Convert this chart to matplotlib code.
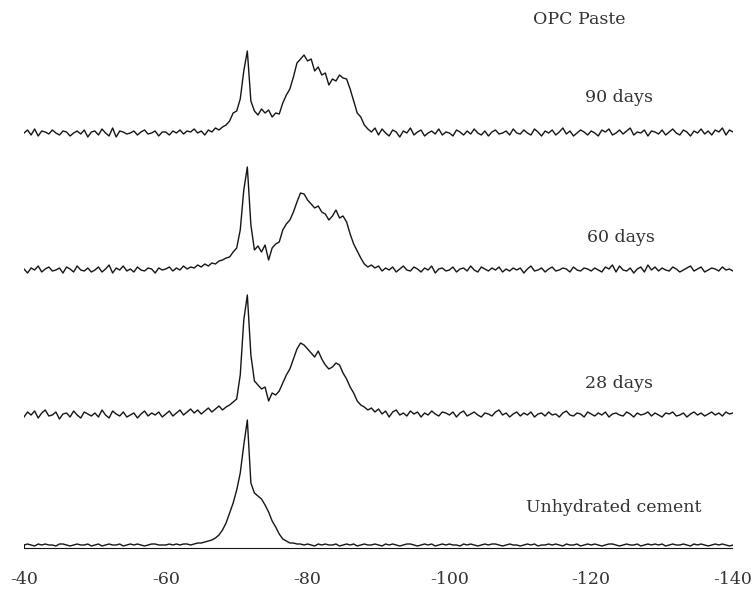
import numpy as np
import matplotlib
matplotlib.use("Agg")
import matplotlib.pyplot as plt

# chemical shift grid (ppm), 0.5 ppm steps from -40 to -140
ppm = np.linspace(-40, -140, 201)

# intensities, rows of 10 ppm each (-40..-49.5, -50..-59.5, ...), last value at -140
days90 = [0, 3, -2, 4, -3, 2, 1, -1, 3, 0, -2, 2, 1, -3, 0, 2, -1, 3, -4, 1,
          2, -2, 4, 0, -3, 5, -4, 2, 1, -1, 0, 2, -2, 1, 3, -1, 0, 2, -3, 1,
          1, -2, 2, 0, 3, -1, 2, 1, 4, 0, 2, -2, 3, 1, 5, 3, 6, 8, 12, 20,
          22, 34, 62, 82, 32, 22, 18, 24, 20, 23, 16, 20, 19, 30, 38, 44, 56, 70, 74, 78,
          72, 74, 62, 66, 58, 60, 48, 54, 52, 58, 55, 54, 44, 32, 20, 16, 8, 4, 1, 5,
          -2, 4, 0, -3, 3, 1, -4, 2, 0, 5, -2, 1, 3, -3, 0, 2, -1, 4, -2, 1,
          0, -3, 3, 1, -2, 2, -1, 4, 0, -2, 2, -3, 1, 3, -1, 0, 2, -2, 4, 0,
          -1, 3, 0, -2, 4, 1, -3, 2, 0, 3, -2, 1, 5, -1, 2, -3, 0, 3, 1, -2,
          2, 0, -3, 3, 1, 4, -2, 0, 3, -1, 2, 5, -2, 1, 0, 3, -3, 2, 1, -1,
          3, -2, 1, 4, 0, -2, 3, 1, -3, 2, 0, 4, -1, 2, -2, 3, 1, 5, -2, 3,
          1]

days60 = [1, -3, 2, 0, 4, -2, 1, 3, -1, 0, 2, -3, 3, 1, -2, 4, 0, -1, 2, -2,
          0, 3, -2, 1, 5, -3, 2, 0, 4, -1, 1, -2, 3, 0, -1, 2, 1, -3, 2, 0,
          1, 3, -1, 2, 0, 4, 1, 3, 2, 5, 3, 6, 4, 7, 6, 9, 10, 12, 13, 18,
          22, 40, 80, 103, 45, 20, 24, 18, 25, 10, 22, 26, 28, 40, 46, 50, 58, 68, 77, 76,
          70, 66, 62, 64, 58, 56, 50, 54, 60, 52, 54, 48, 36, 26, 19, 12, 6, 3, 5, 2,
          4, -1, 2, 0, 3, -2, 1, 4, 0, -1, 3, 1, -2, 2, 0, 4, -3, 1, 2, -1,
          0, 3, -2, 1, 2, -1, 4, 0, -2, 3, 1, -1, 2, 0, 3, -2, 1, -1, 2, 0,
          2, -3, 1, 4, -1, 0, 2, -2, 1, 3, -1, 0, 2, 1, -2, 3, 0, -1, 2, 1,
          -1, 2, 0, -2, 3, 1, 5, -2, 4, 0, -1, 2, -3, 1, 3, -2, 5, 0, 3, -1,
          2, 0, -1, 3, 1, -2, 0, 2, 4, -1, 1, 3, -2, 0, 2, 1, -1, 3, 0, 1,
          -1]

days28 = [-2, 3, 0, 4, -3, 2, 5, -1, 0, 3, -4, 1, 2, -2, 4, 0, -3, 3, 1, -1,
          2, -2, 5, 0, -3, 4, 1, -1, 3, -2, 0, 2, -3, 1, 4, -1, 2, 0, 3, -2,
          1, 4, -1, 2, 5, 0, 3, 6, 2, 5, 1, 4, 7, 3, 6, 9, 5, 8, 10, 13,
          16, 40, 95, 120, 60, 34, 30, 26, 28, 14, 22, 20, 24, 32, 40, 46, 56, 66, 72, 70,
          66, 62, 58, 64, 56, 50, 46, 48, 52, 50, 42, 36, 28, 22, 14, 10, 8, 5, 7, 3,
          6, 1, 4, -2, 3, 5, 0, 2, -1, 4, 1, 3, -2, 2, 0, 4, 1, -1, 3, 2,
          0, 3, -2, 2, 4, -1, 1, 3, 0, -2, 2, 1, -1, 3, 5, 0, 2, -2, 1, 3,
          -1, 2, 0, 3, -2, 1, 2, -1, 3, 0, 1, -2, 2, 4, 0, -1, 2, 1, -2, 3,
          1, -1, 2, 0, 3, -2, 1, 2, 0, -1, 3, 1, -2, 2, 0, 1, 3, -1, 2, 0,
          -2, 2, 1, 3, -1, 0, 2, -2, 1, 3, 0, 2, -1, 1, 3, 0, 2, -1, 3, 1,
          2]

unhydrated = [0, 1, 0, -1, 1, 0, 1, 0, 0, -1, 1, 1, 0, -1, 0, 1, 0, 0, 1, -1,
              0, 1, -1, 0, 1, 0, 0, 1, -1, 0, 1, 0, 1, 0, -1, 0, 1, 1, 0, 0,
              0, 1, 0, 1, 0, 1, 1, 0, 1, 2, 2, 3, 4, 5, 7, 10, 15, 22, 32, 42,
              55, 72, 100, 125, 62, 52, 49, 46, 40, 33, 24, 18, 11, 6, 4, 2, 2, 1, 1, 0,
              1, 0, -1, 1, 0, 1, 0, 0, 1, -1, 0, 1, 0, 1, -1, 0, 1, 0, 0, 1,
              0, -1, 1, 0, 1, 0, -1, 0, 1, 1, 0, -1, 0, 1, 0, 1, -1, 0, 1, 0,
              1, 0, 0, -1, 1, 0, 1, 0, -1, 0, 1, 0, 1, 1, 0, -1, 0, 1, 0, 0,
              -1, 0, 1, 0, 1, -1, 0, 0, 1, 0, 1, 0, -1, 1, 0, 0, 1, -1, 0, 1,
              0, 1, 0, -1, 0, 1, 1, 0, -1, 0, 1, 0, 0, 1, -1, 0, 1, 0, 1, 0,
              1, -1, 0, 1, 0, 0, 1, 0, -1, 1, 0, 1, 0, -1, 0, 1, 0, 1, 0, -1,
              0]

spectra = [unhydrated, days28, days60, days90]
offsets = [0, 130, 275, 412]
labels = ["Unhydrated cement", "28 days", "60 days", "90 days"]
label_pos = [(-123.2, 38), (-123.9, 162), (-124.2, 308), (-123.9, 447)]
title = "OPC Paste"
xticks = [-40, -60, -80, -100, -120, -140]

plt.rcParams['font.family'] = ['DejaVu Serif']

fig = plt.figure(figsize=(7.56, 5.92), dpi=100)
ax = fig.add_axes([24 / 756, 32 / 592, (733 - 24) / 756, 560 / 592])

for spec, off in zip(spectra, offsets):
    ax.plot(ppm, np.array(spec) + off, color='#151515', lw=1.0)

# reference box under the bottom trace
ax.plot([-40, -40, -140, -140], [0, -3, -3, 0], color='#151515', lw=0.8)

for lab, (x, y) in zip(labels, label_pos):
    ax.text(x, y, lab, ha='center', va='center', fontsize=12.5, color='#333333')
ax.text(-118.3, 525, title, ha='center', va='center', fontsize=12.5, color='#333333')

ax.set_xlim(-40, -140)
ax.set_ylim(-15, 545)
ax.set_xticks(xticks)
ax.set_xticklabels([str(t) for t in xticks])
ax.tick_params(axis='x', length=0, pad=8, labelsize=12.5, labelcolor='#333333')
ax.set_yticks([])
for s in ax.spines.values():
    s.set_visible(False)

fig.savefig("out.png", dpi=100)
